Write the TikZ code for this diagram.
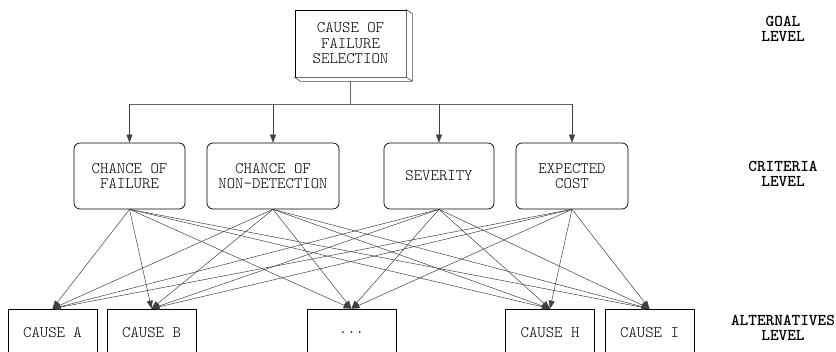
\documentclass[tikz,border=0pt]{standalone}
\usepackage{fontspec}
\usetikzlibrary{arrows.meta, calc}

\begin{document}
\begin{tikzpicture}[x=1pt, y=1pt,
    every node/.style={font=\ttfamily\fontseries{l}\fontsize{16}{15.5}\selectfont},
    critbox/.style={draw=black, line width=0.7pt, rounded corners=6pt, align=center, minimum height=66pt, inner sep=0pt},
    altbox/.style={draw=black, line width=0.7pt, align=center, minimum width=89pt, minimum height=48pt, inner sep=0pt},
    levellabel/.style={align=center, font=\ttfamily\bfseries\fontsize{16.5}{15.5}\selectfont},
    link/.style={draw=black!75, line width=0.5pt, -{Triangle[length=8pt, width=6pt]}}]

  \useasboundingbox (0,0) rectangle (836,-352);

  %%%%%%%%%%%%%%%%%%%%%%%%%%%%%%
  % Goal, criteria, alternatives %
  %%%%%%%%%%%%%%%%%%%%%%%%%%%%%%
  \node[draw=black, line width=0.7pt, fill=white, align=center, minimum width=111pt, minimum height=67pt, inner sep=0pt]
        (goal) at (350.5,-43.5) {CAUSE OF\\FAILURE\\SELECTION};

  \node[critbox, minimum width=111pt] (c1) at (129.5,-176) {CHANCE OF\\FAILURE};
  \node[critbox, minimum width=132pt] (c2) at (273,-176) {CHANCE OF\\NON-DETECTION};
  \node[critbox, minimum width=110pt] (c3) at (439,-176) {SEVERITY};
  \node[critbox, minimum width=112pt] (c4) at (572,-176) {EXPECTED\\COST};

  \node[altbox] (a1) at (52.5,-333) {CAUSE A};
  \node[altbox] (a2) at (151.5,-333) {CAUSE B};
  \node[altbox] (a3) at (351.5,-333) {...};
  \node[altbox] (a4) at (550,-333) {CAUSE H};
  \node[altbox] (a5) at (649.5,-333) {CAUSE I};

  % Level names on the right
  \node[levellabel] (goallevel) at (783,-29) {GOAL\\LEVEL};
  \node[levellabel] (critlevel) at (783,-174) {CRITERIA\\LEVEL};
  \node[levellabel] (altlevel) at (783,-328) {ALTERNATIVES\\LEVEL};

  %%%%%%%%%%%%%%%%%%%%%%%%%%%%%%
  % Goal to criteria tree       %
  %%%%%%%%%%%%%%%%%%%%%%%%%%%%%%
  \draw[black!60, line width=0.5pt] (goal.south) -- ++(0,-27) coordinate (split);
  \draw[black!60, line width=0.5pt] (split -| c1.north) -- (split -| c4.north);
  \foreach \c in {c1,c2,c3,c4}
    \draw[link] (split -| \c.north) -- (\c.north);

  % Extruded edge of the goal box
  \draw[black!70, fill=white, line width=0.6pt]
    (goal.north east) -- ++(6,-4) -- ($(goal.south east)+(6,-4)$) -- ($(goal.south west)+(6,-4)$)
    -- (goal.south west) -- (goal.south east) -- cycle;
  \draw[black!70, line width=0.6pt] (goal.south east) -- ++(6,-4);

  %%%%%%%%%%%%%%%%%%%%%%%%%%%%%%
  % Criteria to alternatives    %
  %%%%%%%%%%%%%%%%%%%%%%%%%%%%%%
  \foreach \c in {c1,c2,c3,c4}
    \foreach \a in {a1,a2,a3,a4,a5}
      \draw[link] (\c.south) -- (\a.north);

\end{tikzpicture}
\end{document}
